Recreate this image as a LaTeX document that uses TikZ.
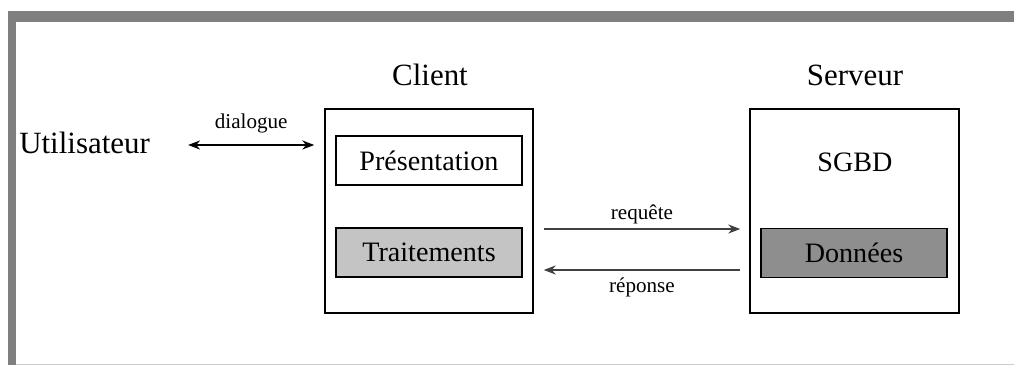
\documentclass[tikz,border=0pt]{standalone}
\usepackage{fontspec}
\setmainfont{Liberation Serif}
\usetikzlibrary{arrows.meta,positioning}
\definecolor{framegray}{HTML}{7F7F7F}
\definecolor{traitgray}{HTML}{C4C4C4}
\definecolor{datagray}{HTML}{8E8E8E}

\begin{document}
\begin{tikzpicture}[x=0.025cm,y=-0.025cm,>={Stealth[length=8.5pt,width=6.5pt]},
					tier node/.style={draw,line width=1.1pt,minimum width=5.2cm,minimum height=5.1cm,inner sep=0pt},
					layer node/.style={draw,line width=1.1pt,minimum width=4.65cm,minimum height=1.22cm,
						font=\fontsize{20}{24}\selectfont},
					title node/.style={font=\fontsize{22}{26}\selectfont},
					tag node/.style={font=\fontsize{15}{18}\selectfont}]
					\useasboundingbox (0,0) rectangle (1014,365);
					% cadre gris
					\fill[framegray] (8,11) rectangle (1014,22);
					\fill[framegray] (8,11) rectangle (16,365);
					\draw[black!20] (16,364) -- (1014,364);

					\node[title node,anchor=west,inner sep=0pt] (user) at (19,143) {Utilisateur};
					\node[tier node] (client) at (429,211) {};
					\node[tier node,minimum width=5.225cm] (serveur) at (854.5,211) {};
					\node[title node] (clientlbl) at (430,75) {Client};
					\node[title node] (serveurlbl) at (855,75) {Serveur};
					\node[layer node] (pres) at (429,160.5) {Présentation};
					\node[layer node,fill=traitgray] (trait) at (429,252.5) {Traitements};
					\node[layer node,draw=none] (sgbd) at (855,162) {SGBD};
					\node[layer node,fill=datagray] (donnees) at (854,253) {Données};

					\draw[<->,line width=0.9pt] ([xshift=0.95cm,yshift=-0.05cm]user.east)
						-- node[tag node,above=5pt] (dlg) {dialogue} ([xshift=-0.25cm,yshift=-0.05cm]user.east -| client.west);
					\draw[->,line width=0.8pt,black!75] ([xshift=0.25cm,yshift=-0.45cm]client.east)
						-- node[tag node,above=0pt,black] (req) {requête} ([xshift=-0.225cm,yshift=-0.45cm]client.east -| serveur.west);
					\draw[->,line width=0.8pt,black!75] ([xshift=-0.225cm,yshift=-1.475cm]client.east -| serveur.west)
						-- node[tag node,below=2pt,black] (rep) {réponse} ([xshift=0.25cm,yshift=-1.475cm]client.east);
				\end{tikzpicture}
\end{document}
